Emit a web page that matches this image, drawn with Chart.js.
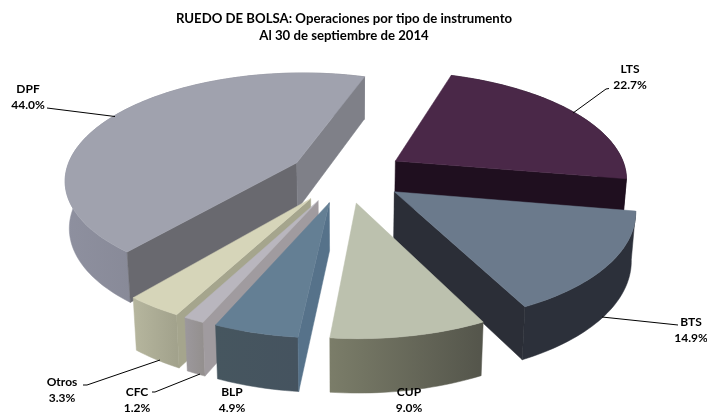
<!DOCTYPE html>
<html><head><meta charset="utf-8">
<style>html,body{margin:0;padding:0;background:#fff}canvas{display:block}</style>
<script src="https://cdn.jsdelivr.net/npm/chart.js@4"></script>
</head><body><canvas id="c" width="707" height="412"></canvas>
<script>
const categories = ['LTS','BTS','CUP','BLP','CFC','Otros','DPF'];
const shares = [22.7,14.9,9.0,4.9,1.2,3.3,44.0];
const explode = [60,60,60,60,60,60,56];
const titleLines = ['RUEDO DE BOLSA: Operaciones por tipo de instrumento','Al 30 de septiembre de 2014'];
const topColors = ['#4a2848','#6b7a8c','#bcc1ae','#647f94','#b9b6be','#d6d5b9','#a0a2ae'];
const rimLeft = ['#1f0f1f','#2c303a','#7b7d69','#46565f','#9c989c','#b6b69e','#8e909f'];
const rimRight = ['#1f0f1f','#2c303a','#54554b','#45535f','#94908f','#a2a28c','#73747f'];
const startWall = ['#1f0f1f','#2c303a','#5a5b50','#56728a','#a09b9f','#a5a58d','#69696f'];
const endWall = ['#1f0f1f','#2b2e37','#5a5b50','#45535f','#94908f','#a2a28c','#7f8088'];
const paintOrder = [0,6,1,2,5,4,3];
const labelSpots = [[630,69],[691,322],[409,392],[232,392],[137,392],[62,382],[28,89]];
const leaders = [
  [[609,88.5],[606,89],[573,113]],
  [[678,325],[602,317]],
  [],[],
  [[152,392],[155,392],[200,374]],
  [[83,385],[87,385],[160,360]],
  [[47,108],[115,116.5]]
];
const view = {cx:345, cy:175, R:232, k:0.4587, D:1579};

function project(phi, r, e, bis){
  const u = r*Math.sin(phi)+e*Math.sin(bis), v = r*Math.cos(phi)+e*Math.cos(bis);
  const s = view.D/(view.D+v);
  return {x:view.cx+u*s, y:view.cy-v*view.k*s, s};
}
const lower = p => ({x:view.cx+(p.x-view.cx)*0.985, y:p.y+13.6+33.3*p.s});
function poly(ctx, pts, fill){
  ctx.beginPath();
  pts.forEach((p,i)=> i?ctx.lineTo(p.x,p.y):ctx.moveTo(p.x,p.y));
  ctx.closePath();
  ctx.fillStyle=fill; ctx.strokeStyle=fill; ctx.lineWidth=0.5;
  ctx.fill(); ctx.stroke();
}
// a radial wall shows only when "straight down" from its edge falls outside the wedge
function wallShows(apex, edge, mid){
  const dx=edge.x-apex.x, dy=edge.y-apex.y;
  return dx*((dx*(mid.y-apex.y))-(dy*(mid.x-apex.x))) < 0;
}
const pie3d = {
  id:'pie3d',
  beforeDatasetDraw(chart,args){
    const ctx=chart.ctx, meta=args.meta;
    paintOrder.forEach(i=>{
      const el=meta.data[i];
      const a0=el.startAngle+Math.PI/2, a1=el.endAngle+Math.PI/2, bis=(a0+a1)/2;
      const e=el.options.offset;
      const n=Math.max(6,Math.ceil((a1-a0)*40));
      const rim=[];
      for(let j=0;j<=n;j++) rim.push(project(a0+(a1-a0)*j/n,view.R,e,bis));
      const apex=project(0,0,e,bis);
      const mid=rim[n>>1];
      const xs=rim.map(p=>p.x);
      const minX=Math.min(...xs),maxX=Math.max(...xs);
      const g=ctx.createLinearGradient(minX,0,maxX,0);
      g.addColorStop(0,rimLeft[i]); g.addColorStop(1,rimRight[i]);
      poly(ctx,rim.concat(rim.map(lower).reverse()),g);
      if(wallShows(apex,rim[0],mid)) poly(ctx,[apex,rim[0],lower(rim[0]),lower(apex)],startWall[i]);
      if(wallShows(apex,rim[n],mid)) poly(ctx,[apex,rim[n],lower(rim[n]),lower(apex)],endWall[i]);
      poly(ctx,[apex].concat(rim),topColors[i]);
    });
    return false;
  },
  afterDraw(chart){
    const ctx=chart.ctx;
    ctx.save();
    ctx.strokeStyle='#000'; ctx.lineWidth=1;
    leaders.forEach(l=>{
      if(!l.length) return;
      ctx.beginPath();
      l.forEach((p,i)=> i?ctx.lineTo(p[0],p[1]):ctx.moveTo(p[0],p[1]));
      ctx.stroke();
    });
    ctx.font='bold 12px Lato'; ctx.fillStyle='#000';
    ctx.textAlign='center'; ctx.textBaseline='middle';
    categories.forEach((c,i)=>{
      const [x,y]=labelSpots[i];
      ctx.fillText(c,x,y);
      ctx.fillText(shares[i].toFixed(1)+'%',x,y+16);
    });
    ctx.restore();
  }
};
new Chart(document.getElementById('c'),{
  type:'pie',
  data:{labels:categories,datasets:[{data:shares,backgroundColor:topColors,offset:explode,borderWidth:0}]},
  options:{
    responsive:false,animation:false,events:[],rotation:18,
    layout:{padding:{right:19,top:10}},
    plugins:{
      legend:{display:false},tooltip:{enabled:false},
      title:{display:true,text:titleLines,color:'#000',font:{family:'Lato',weight:'bold',size:13.2,lineHeight:1.29},padding:{top:0,bottom:0}}
    }
  },
  plugins:[pie3d]
});
</script></body></html>
